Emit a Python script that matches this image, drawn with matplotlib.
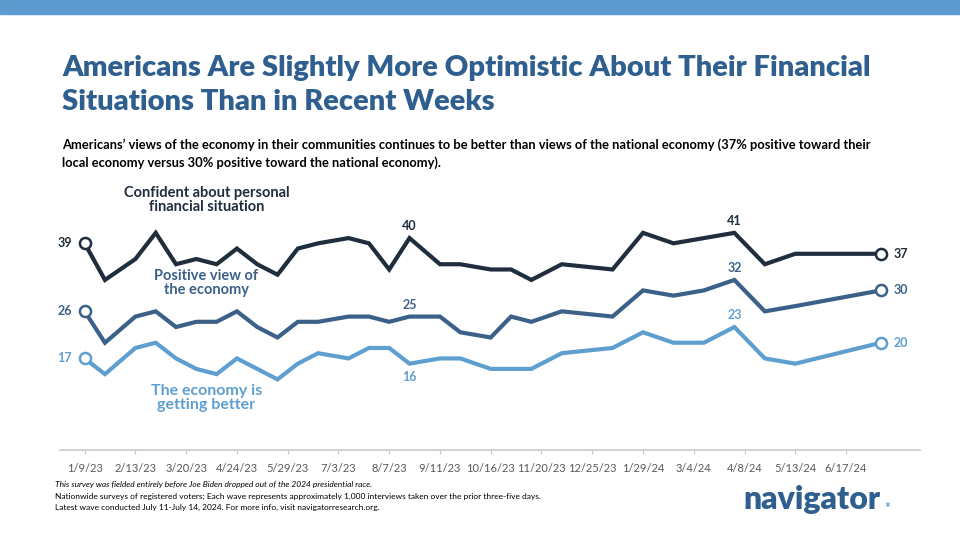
import datetime as dt
import matplotlib.pyplot as plt
from matplotlib.patches import Rectangle

DATES = ["1/9/23", "1/23/23", "2/13/23", "2/27/23", "3/13/23", "3/27/23",
         "4/10/23", "4/24/23", "5/8/23", "5/22/23", "6/5/23", "6/19/23",
         "7/10/23", "7/24/23", "8/7/23", "8/21/23", "9/11/23", "9/25/23",
         "10/16/23", "10/30/23", "11/13/23", "12/4/23", "1/8/24", "1/29/24",
         "2/19/24", "3/11/24", "4/1/24", "4/22/24", "5/13/24", "7/11/24"]
CONFIDENT = [39, 32, 36, 41, 35, 36, 35, 38, 35, 33, 38, 39, 40, 39, 34,
             40, 35, 35, 34, 34, 32, 35, 34, 41, 39, 40, 41, 35, 37, 37]
POSITIVE = [26, 20, 25, 26, 23, 24, 24, 26, 23, 21, 24, 24, 25, 25, 24,
            25, 25, 22, 21, 25, 24, 26, 25, 30, 29, 30, 32, 26, 27, 30]
BETTER = [17, 14, 19, 20, 17, 15, 14, 17, 15, 13, 16, 18, 17, 19, 19,
          16, 17, 17, 15, 15, 15, 18, 19, 22, 20, 20, 23, 17, 16, 20]
TICKS = ["1/9/23", "2/13/23", "3/20/23", "4/24/23", "5/29/23", "7/3/23",
         "8/7/23", "9/11/23", "10/16/23", "11/20/23", "12/25/23", "1/29/24",
         "3/4/24", "4/8/24", "5/13/24", "6/17/24"]

C_DARK = "#1f2d3d"
C_MID = "#3b6188"
C_LIGHT = "#5f9fd0"
TITLE_C = "#2f5f8f"


def to_date(s):
    return dt.datetime.strptime(s, "%m/%d/%y")


dates = [to_date(d) for d in DATES]
plt.rcParams["font.family"] = ["Lato", "DejaVu Sans"]

fig = plt.figure(figsize=(9.6, 5.4), dpi=100)
fig.patches.append(Rectangle((0, 1 - 14 / 540), 1, 14 / 540,
                             transform=fig.transFigure, color="#5b9bd0"))
fig.text(62 / 960, 1 - 68 / 540, "Americans Are Slightly More Optimistic About Their Financial",
         fontsize=21, weight="heavy", color=TITLE_C, va="center")
fig.text(62 / 960, 1 - 102 / 540, "Situations Than in Recent Weeks",
         fontsize=21, weight="heavy", color=TITLE_C, va="center")
fig.text(62 / 960, 1 - 145 / 540,
         "Americans\u2019 views of the economy in their communities continues to be better than views of the national economy (37% positive toward their",
         fontsize=9.3, weight="bold", color="black", va="center")
fig.text(62 / 960, 1 - 163 / 540,
         "local economy versus 30% positive toward the national economy).",
         fontsize=9.3, weight="bold", color="black", va="center")

ax = fig.add_axes([60 / 960, 1 - 450 / 540, 860 / 960, 270 / 540])
start = to_date("1/9/23")
ax.set_xlim(start - dt.timedelta(days=17), start + dt.timedelta(days=576))
ax.set_ylim(-0.5, 51.1)

for vals, col in [(CONFIDENT, C_DARK), (POSITIVE, C_MID), (BETTER, C_LIGHT)]:
    ax.plot(dates, vals, color=col, lw=3, solid_joinstyle="miter", zorder=2)
    ax.plot([dates[0], dates[-1]], [vals[0], vals[-1]], "o", ms=8,
            mfc="white", mec=col, mew=1.8, zorder=3)
    ax.text(dates[0] - dt.timedelta(days=9), vals[0], str(vals[0]),
            ha="right", va="center", fontsize=9, weight="bold", color=col)
    ax.text(dates[-1] + dt.timedelta(days=9), vals[-1], str(vals[-1]),
            ha="left", va="center", fontsize=9, weight="bold", color=col)

for vals, col, idx, off in [(CONFIDENT, C_DARK, 15, 2.3), (CONFIDENT, C_DARK, 26, 2.3),
                            (POSITIVE, C_MID, 15, 2.3), (POSITIVE, C_MID, 26, 2.3),
                            (BETTER, C_LIGHT, 15, -2.5), (BETTER, C_LIGHT, 26, 2.3)]:
    ax.text(dates[idx], vals[idx] + off, str(vals[idx]), ha="center",
            va="center", fontsize=9, weight="bold", color=col)

ax.text(to_date("4/3/23"), 47.2, "Confident about personal\nfinancial situation",
        ha="center", va="center", fontsize=10.5, weight="bold", color=C_DARK, linespacing=1.0)
ax.text(to_date("4/3/23"), 31.4, "Positive view of\nthe economy",
        ha="center", va="center", fontsize=10.5, weight="bold", color=C_MID, linespacing=1.0)
ax.text(to_date("4/3/23"), 9.4, "The economy is\ngetting better",
        ha="center", va="center", fontsize=11.5, weight="bold", color=C_LIGHT, linespacing=1.0)

for s in ["top", "right", "left"]:
    ax.spines[s].set_visible(False)
ax.spines["bottom"].set_color("#c8c8c8")
ax.spines["bottom"].set_linewidth(1.2)
ax.set_yticks([])
ax.set_xticks([to_date(t) for t in TICKS])
ax.set_xticklabels(TICKS, fontsize=8, color="#595959")
ax.tick_params(axis="x", length=3, color="#c8c8c8", pad=6)

fig.text(55 / 960, 1 - 485 / 540,
         "This survey was fielded entirely before Joe Biden dropped out of the 2024 presidential race.",
         fontsize=6, style="italic", va="center")
fig.text(55 / 960, 1 - 496 / 540,
         "Nationwide surveys of registered voters; Each wave represents approximately 1,000 interviews taken over the prior three-five days.",
         fontsize=6, va="center")
fig.text(55 / 960, 1 - 507 / 540,
         "Latest wave conducted July 11-July 14, 2024. For more info, visit navigatorresearch.org.",
         fontsize=6, va="center")
fig.text(743 / 960, 1 - 500 / 540, "navigator", fontsize=23, weight="heavy",
         color=TITLE_C, va="center")
fig.text(884 / 960, 1 - 508 / 540, "*", fontsize=10, weight="bold",
         color=C_LIGHT, va="center")

fig.savefig("out.png", dpi=100)
